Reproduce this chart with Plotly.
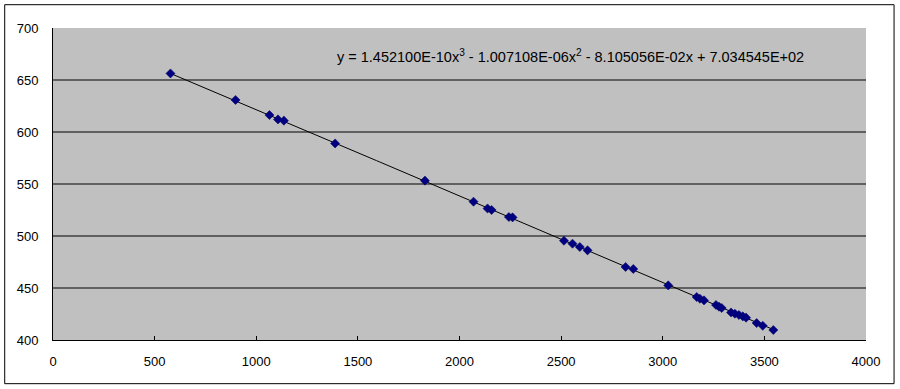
import numpy as np
import plotly.graph_objects as go

x_vals = [578, 898, 1065, 1107, 1136, 1388, 1830, 2069, 2138, 2158, 2243, 2261,
          2514, 2556, 2592, 2630, 2817, 2855, 3027, 3167, 3183, 3203, 3262, 3277,
          3290, 3336, 3355, 3375, 3394, 3410, 3462, 3492, 3544]
y_vals = [656.3, 630.8, 616.3, 612.1, 610.9, 589.0, 553.2, 533.0, 526.5, 525.0, 518.3, 517.9,
          495.5, 492.6, 489.4, 486.2, 470.2, 468.3, 452.5, 441.3, 439.7, 438.1, 433.7, 432.0,
          430.8, 426.5, 425.3, 424.0, 422.7, 421.5, 416.3, 413.7, 409.6]

# Cubic trendline coefficients (from the chart's equation label)
trend_coefs = [1.452100e-10, -1.007108e-06, -8.105056e-02, 7.034545e+02]
equation_text = "y = 1.452100E-10x<sup>3</sup> - 1.007108E-06x<sup>2</sup> - 8.105056E-02x + 7.034545E+02"

x_ticks = [0, 500, 1000, 1500, 2000, 2500, 3000, 3500, 4000]
y_ticks = [400, 450, 500, 550, 600, 650, 700]

tx = np.linspace(min(x_vals), max(x_vals), 200)
ty = np.polyval(trend_coefs, tx)

fig = go.Figure()
fig.add_trace(go.Scatter(x=tx, y=ty, mode="lines",
                         line=dict(color="black", width=1), hoverinfo="skip"))
fig.add_trace(go.Scatter(x=x_vals, y=y_vals, mode="markers",
                         marker=dict(symbol="diamond", size=7, color="#000080",
                                     line=dict(color="#000060", width=0.5))))

# horizontal gridlines (excluding the top edge)
for yv in y_ticks[1:-1]:
    fig.add_shape(type="line", xref="paper", x0=0, x1=1, yref="y", y0=yv, y1=yv,
                  line=dict(color="black", width=1), layer="below")

# outer chart border
fig.add_shape(type="rect", xref="paper", yref="paper",
              x0=-0.0594, x1=1.0345, y0=-0.140, y1=1.0747,
              line=dict(color="black", width=1))

fig.add_annotation(x=2548, y=673.4, xref="x", yref="y", text=equation_text,
                   showarrow=False, font=dict(family="Liberation Sans, Arial", size=14.5, color="black"))

fig.update_layout(
    width=900, height=389,
    margin=dict(l=53, r=34, t=28, b=49),
    paper_bgcolor="white", plot_bgcolor="#C0C0C0",
    showlegend=False,
    font=dict(family="Liberation Sans, Arial", size=13, color="black"),
)
fig.update_xaxes(range=[0, 4000], tickvals=x_ticks, showgrid=False, zeroline=False,
                 showline=True, linecolor="black", linewidth=1,
                 ticks="inside", ticklen=4, tickcolor="black", tickfont=dict(size=13),
                 ticklabelstandoff=9)
fig.update_yaxes(range=[400, 700], tickvals=y_ticks, showgrid=False, zeroline=False,
                 showline=True, linecolor="black", linewidth=1,
                 ticks="", ticklabelstandoff=11, tickfont=dict(size=13))

fig.write_html("out.html", config={"displayModeBar": False},
               post_script="document.body.style.margin='0';document.body.style.overflow='hidden';")
